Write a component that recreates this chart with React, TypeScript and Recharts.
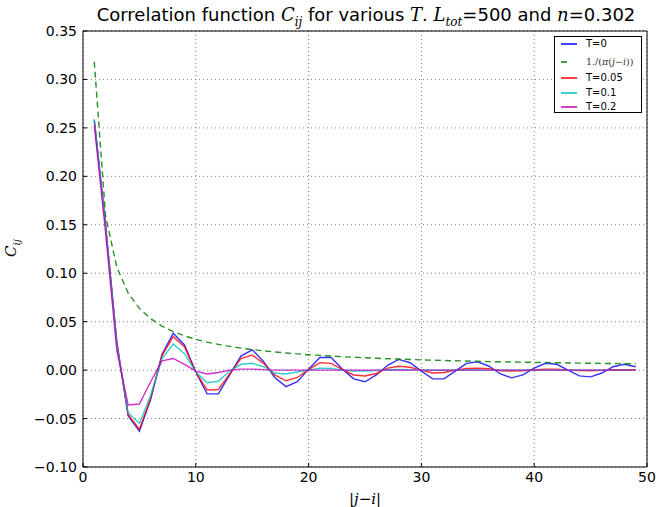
import { LineChart, Line, XAxis, YAxis, CartesianGrid, ReferenceArea, Legend } from 'recharts'

const distances = [
  1, 2, 3, 4, 5, 6, 7, 8, 9, 10, 11, 12, 13, 14, 15, 16, 17, 18, 19, 20, 21, 22, 23, 24, 25,
  26, 27, 28, 29, 30, 31, 32, 33, 34, 35, 36, 37, 38, 39, 40, 41, 42, 43, 44, 45, 46, 47, 48, 49,
]

// T=0
const cT0 = [
  0.2587, 0.15, 0.029, -0.047, -0.063, -0.03, 0.016, 0.038, 0.026, -0.002, -0.0245, -0.0245, -0.005,
  0.0145, 0.021, 0.009, -0.0076, -0.017, -0.012, 0.001, 0.013, 0.013, 0.001, -0.009, -0.012, -0.005,
  0.005, 0.011, 0.0076, -0.001, -0.009, -0.009, -0.001, 0.007, 0.0086, 0.004, -0.004, -0.008, -0.005,
  0.002, 0.007, 0.006, 0.0, -0.006, -0.007, -0.003, 0.0035, 0.006, 0.0035,
]

// 1/(pi (j-i)) reference curve
const cFree = [
  0.3183, 0.1592, 0.1061, 0.0796, 0.0637, 0.0531, 0.0455, 0.0398, 0.0354, 0.0318, 0.0289, 0.0265,
  0.0245, 0.0227, 0.0212, 0.0199, 0.0187, 0.0177, 0.0168, 0.0159, 0.0152, 0.0145, 0.0138, 0.0133,
  0.0127, 0.0122, 0.0118, 0.0114, 0.011, 0.0106, 0.0103, 0.0099, 0.0096, 0.0094, 0.0091, 0.0088,
  0.0086, 0.0084, 0.0082, 0.008, 0.0078, 0.0076, 0.0074, 0.0072, 0.0071, 0.0069, 0.0068, 0.0066, 0.0065,
]

// T=0.05
const cT005 = [
  0.257, 0.149, 0.028, -0.046, -0.061, -0.029, 0.015, 0.0345, 0.024, -0.002, -0.0205, -0.02, -0.004,
  0.012, 0.0155, 0.007, -0.005, -0.011, -0.0076, 0.0005, 0.0076, 0.007, 0.0005, -0.005, -0.006, -0.0035,
  0.002, 0.004, 0.003, 0.0, -0.003, -0.0025, 0.0, 0.0017, 0.002, 0.0014, -0.0007, -0.001, -0.0007,
  0.0003, 0.001, 0.001, 0.0, -0.0004, -0.0006, -0.0003, 0.0003, 0.0005, 0.0003,
]

// T=0.1
const cT01 = [
  0.258, 0.148, 0.026, -0.044, -0.055, -0.026, 0.012, 0.027, 0.017, -0.002, -0.013, -0.0115, -0.001,
  0.006, 0.007, 0.0035, -0.003, -0.004, -0.002, 0.0, 0.002, 0.0017, 0.0, -0.001, -0.001, -0.0005,
  0.0004, 0.0007, 0.0005, 0.0, -0.0002, -0.0002, 0.0, 0.0001, 0.0001, 0, 0, 0, 0,
  0, 0, 0, 0, 0, 0, 0, 0, 0, 0,
]

// T=0.2
const cT02 = [
  0.253, 0.142, 0.02, -0.036, -0.035, -0.012, 0.0095, 0.012, 0.006, -0.001, -0.004, -0.0025, 0.0,
  0.001, 0.001, 0.0005, 0, 0, 0, 0, 0, 0, 0, 0, 0, 0,
  0, 0, 0, 0, 0, 0, 0, 0, 0, 0, 0, 0, 0,
  0, 0, 0, 0, 0, 0, 0, 0, 0, 0,
]

const xTicks = [0, 10, 20, 30, 40, 50]
const yTicks = [-0.1, -0.05, 0, 0.05, 0.1, 0.15, 0.2, 0.25, 0.3, 0.35]

const chartData = distances.map((d, i) => ({
  d,
  t0: cT0[i],
  free: cFree[i],
  t005: cT005[i],
  t01: cT01[i],
  t02: cT02[i],
}))

const COLORS = {
  t0: '#0000ff',
  free: '#008000',
  t005: '#ff0000',
  t01: '#00bfbf',
  t02: '#bf00bf',
}

const MATH = '"DejaVu Serif", serif'
const SANS = '"DejaVu Sans", sans-serif'
const tickStyle = { fill: '#000', fontSize: 14, fontFamily: SANS }

const fmtY = (v: number) => v.toFixed(2).replace('-', '\u2212')

function LegendBox() {
  const rows = [
    { key: 't0', label: <span>T=0</span>, y: 7, dash: false },
    {
      key: 'free',
      label: (
        <span style={{ fontFamily: MATH, fontSize: 9.5, color: '#333' }}>
          1./(<i>π</i>(<i>j</i>−<i>i</i>))
        </span>
      ),
      y: 25,
      dash: true,
    },
    { key: 't005', label: <span>T=0.05</span>, y: 41, dash: false },
    { key: 't01', label: <span>T=0.1</span>, y: 55.5, dash: false },
    { key: 't02', label: <span>T=0.2</span>, y: 70, dash: false },
  ]
  return (
    <div
      style={{
        position: 'relative',
        width: 88,
        height: 77,
        boxSizing: 'border-box',
        border: '1px solid #000',
        background: '#fff',
        fontFamily: SANS,
        fontSize: 10,
        color: '#000',
      }}
    >
      {rows.map((r) => (
        <div key={r.key}>
          <svg
            width={16}
            height={4}
            style={{ position: 'absolute', left: 6, top: r.y - 2 }}
          >
            <line
              x1={0}
              y1={2}
              x2={r.dash ? 6 : 16}
              y2={2}
              stroke={COLORS[r.key as keyof typeof COLORS]}
              strokeWidth={1.5}
            />
          </svg>
          <div style={{ position: 'absolute', left: 31, top: r.y - 7, lineHeight: '14px', whiteSpace: 'nowrap' }}>
            {r.label}
          </div>
        </div>
      ))}
    </div>
  )
}

export default function App() {
  return (
    <div style={{ position: 'absolute', left: 0, top: 0, width: 656, height: 507, background: '#fff' }}>
      <LineChart
        width={656}
        height={507}
        data={chartData}
        margin={{ top: 31, right: 9, bottom: 0, left: 0 }}
      >
        <CartesianGrid xAxisId="b" yAxisId="l" stroke="#666" strokeDasharray="1 3" strokeWidth={0.8} />
        <XAxis
          xAxisId="b"
          dataKey="d"
          type="number"
          domain={[0, 50]}
          ticks={xTicks}
          interval={0}
          height={40}
          axisLine={false}
          tickSize={-4}
          tickMargin={9}
          tickLine={{ stroke: '#000' }}
          tick={tickStyle}
        />
        <XAxis
          xAxisId="top"
          orientation="top"
          dataKey="d"
          type="number"
          domain={[0, 50]}
          ticks={xTicks}
          interval={0}
          height={0}
          axisLine={false}
          tickSize={-4}
          tickLine={{ stroke: '#000' }}
          tickFormatter={() => ''}
        />
        <YAxis
          yAxisId="l"
          type="number"
          domain={[-0.1, 0.35]}
          ticks={yTicks}
          interval={0}
          width={83}
          axisLine={false}
          tickSize={-4}
          tickMargin={10}
          tickLine={{ stroke: '#000' }}
          tick={tickStyle}
          tickFormatter={fmtY}
        />
        <YAxis
          yAxisId="r"
          orientation="right"
          type="number"
          domain={[-0.1, 0.35]}
          ticks={yTicks}
          interval={0}
          width={0}
          axisLine={false}
          tickSize={-4}
          tickLine={{ stroke: '#000' }}
          tickFormatter={() => ''}
        />
        <Line xAxisId="b" yAxisId="l" dataKey="t0" stroke={COLORS.t0} strokeOpacity={0.8} strokeWidth={1.4} dot={false} isAnimationActive={false} />
        <Line xAxisId="b" yAxisId="l" dataKey="free" stroke={COLORS.free} strokeOpacity={0.85} strokeWidth={1.4} strokeDasharray="6 4" dot={false} isAnimationActive={false} />
        <Line xAxisId="b" yAxisId="l" dataKey="t005" stroke={COLORS.t005} strokeOpacity={0.8} strokeWidth={1.4} dot={false} isAnimationActive={false} />
        <Line xAxisId="b" yAxisId="l" dataKey="t01" stroke={COLORS.t01} strokeOpacity={0.8} strokeWidth={1.4} dot={false} isAnimationActive={false} />
        <Line xAxisId="b" yAxisId="l" dataKey="t02" stroke={COLORS.t02} strokeOpacity={0.8} strokeWidth={1.4} dot={false} isAnimationActive={false} />
        <ReferenceArea xAxisId="b" yAxisId="l" x1={0} x2={50} y1={-0.1} y2={0.35} fill="none" stroke="#000" strokeWidth={1} />
        <Legend
          layout="vertical"
          align="center"
          verticalAlign="middle"
          wrapperStyle={{ left: 554, top: 36, width: 88, height: 77 }}
          content={() => <LegendBox />}
        />
      </LineChart>
      <div
        style={{
          position: 'absolute',
          left: 66,
          top: 4,
          width: 600,
          textAlign: 'center',
          fontFamily: SANS,
          fontSize: 18,
          lineHeight: '22px',
          whiteSpace: 'nowrap',
        }}
      >
        Correlation function <i style={{ fontFamily: MATH }}>C</i>
        <sub style={{ fontFamily: MATH, fontStyle: 'italic', fontSize: 12 }}>ij</sub> for various{' '}
        <i style={{ fontFamily: MATH }}>T</i>. <i style={{ fontFamily: MATH }}>L</i>
        <sub style={{ fontFamily: MATH, fontStyle: 'italic', fontSize: 12 }}>tot</sub>=500 and{' '}
        <i style={{ fontFamily: MATH }}>n</i>=0.302
      </div>
      <div
        style={{
          position: 'absolute',
          left: 12,
          top: 248,
          transform: 'translate(-50%, -50%) rotate(-90deg)',
          fontFamily: MATH,
          fontStyle: 'italic',
          fontSize: 15,
          whiteSpace: 'nowrap',
        }}
      >
        C<sub style={{ fontSize: 10 }}>ij</sub>
      </div>
      <div
        style={{
          position: 'absolute',
          left: 365,
          top: 499,
          transform: 'translate(-50%, -50%)',
          fontFamily: MATH,
          fontSize: 15,
          whiteSpace: 'nowrap',
        }}
      >
        |<i>j</i>−<i>i</i>|
      </div>
    </div>
  )
}
